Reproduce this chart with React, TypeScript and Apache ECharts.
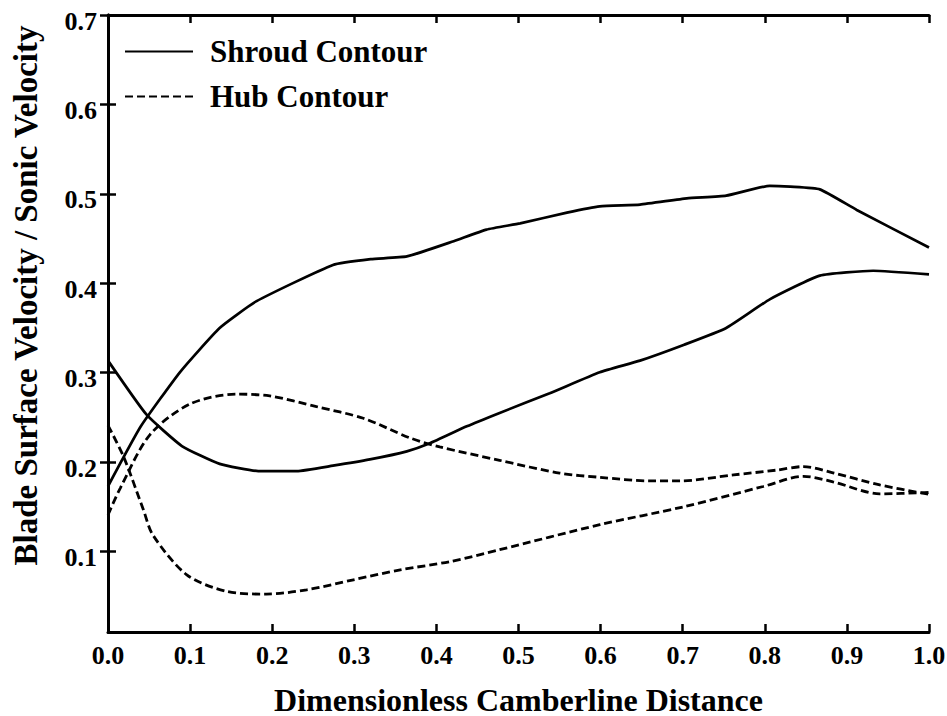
import React, { useEffect, useRef } from "react";
import * as echarts from "echarts";

const shroudSuction: [number, number][] = [
  [0.0, 0.173], [0.04, 0.24], [0.088, 0.301], [0.136, 0.35], [0.181, 0.38],
  [0.274, 0.4205], [0.32, 0.427], [0.364, 0.43], [0.421, 0.447], [0.461, 0.46],
  [0.502, 0.467], [0.559, 0.479], [0.599, 0.486], [0.648, 0.488], [0.705, 0.495],
  [0.753, 0.498], [0.806, 0.509], [0.831, 0.508], [0.867, 0.505], [0.912, 0.482],
  [1.0, 0.44],
];
const shroudPressure: [number, number][] = [
  [0.0, 0.3135], [0.047, 0.253], [0.09, 0.218], [0.136, 0.198], [0.183, 0.19],
  [0.23, 0.19], [0.274, 0.196], [0.319, 0.203], [0.364, 0.212], [0.392, 0.221],
  [0.437, 0.24], [0.477, 0.255], [0.538, 0.277], [0.599, 0.3005], [0.648, 0.3135],
  [0.701, 0.331], [0.753, 0.35], [0.806, 0.382], [0.867, 0.4085], [0.932, 0.414],
  [1.0, 0.41],
];
const hubUpper: [number, number][] = [
  [0.0, 0.141], [0.015, 0.171], [0.051, 0.2305], [0.1, 0.265], [0.157, 0.276],
  [0.197, 0.274], [0.254, 0.262], [0.311, 0.249], [0.368, 0.227], [0.404, 0.217],
  [0.477, 0.202], [0.55, 0.1877], [0.599, 0.183], [0.66, 0.179], [0.697, 0.179],
  [0.762, 0.1857], [0.814, 0.191], [0.847, 0.195], [0.883, 0.188], [0.94, 0.1745],
  [1.0, 0.164],
];
const hubLower: [number, number][] = [
  [0.0, 0.241], [0.019, 0.206], [0.043, 0.147], [0.055, 0.118], [0.096, 0.074],
  [0.145, 0.0553], [0.193, 0.0524], [0.242, 0.0572], [0.299, 0.0684], [0.356, 0.0795],
  [0.417, 0.0888], [0.477, 0.102], [0.599, 0.13], [0.701, 0.15], [0.798, 0.1727],
  [0.847, 0.184], [0.883, 0.178], [0.94, 0.1645], [1.0, 0.166],
];
const yTicks = [0.1, 0.2, 0.3, 0.4, 0.5, 0.6, 0.7];

const FONT = "'Liberation Serif', 'Times New Roman', serif";

export default function App() {
  const ref = useRef<HTMLDivElement>(null);
  useEffect(() => {
    if (!ref.current) return;
    const chart = echarts.init(ref.current, undefined, { renderer: "svg" });
    const axisLine = { show: true, lineStyle: { color: "#000", width: 3 } };
    const tick = { show: true, inside: true, length: 8, lineStyle: { color: "#000", width: 2.5 } };
    const solid = { color: "#000", width: 2.7, type: "solid" as const };
    const dashed = { color: "#000", width: 2.8, type: [8, 4] as any };
    chart.setOption({
      animation: false,
      backgroundColor: "#fff",
      grid: { left: 108, right: 18, top: 15, bottom: 84, containLabel: false, outerBoundsMode: "none" },
      legend: {
        orient: "vertical",
        left: 119,
        top: 31,
        itemWidth: 68,
        itemHeight: 2,
        itemGap: 14,
        itemStyle: { opacity: 0 },
        data: ["Shroud Contour", "Hub Contour"],
        textStyle: {
          fontFamily: FONT,
          fontWeight: "bold",
          fontSize: 31,
          color: "#000",
          padding: [0, 0, 0, 12],
        },
      },
      xAxis: [
        {
          type: "value",
          min: 0,
          max: 1,
          interval: 0.1,
          position: "bottom",
          name: "Dimensionless Camberline Distance",
          nameLocation: "middle",
          nameGap: 54,
          nameTextStyle: { fontFamily: FONT, fontWeight: "bold", fontSize: 32, lineHeight: 27, color: "#000" },
          axisLine,
          axisTick: tick,
          splitLine: { show: false },
          axisLabel: {
            margin: 10,
            fontFamily: FONT,
            fontWeight: "bold",
            fontSize: 26,
            color: "#000",
            formatter: (v: number) => v.toFixed(1),
          },
        },
        {
          type: "value",
          min: 0,
          max: 1,
          interval: 0.1,
          position: "top",
          axisLine,
          axisTick: tick,
          splitLine: { show: false },
          axisLabel: { show: false },
        },
      ],
      yAxis: [
        {
          type: "value",
          min: 0.01,
          max: 0.7,
          position: "left",
          name: "Blade Surface Velocity / Sonic Velocity",
          nameLocation: "middle",
          nameRotate: 90,
          nameGap: 66,
          nameTextStyle: {
            fontFamily: FONT,
            fontWeight: "bold",
            fontSize: 33,
            color: "#000",
            padding: [0, 0, 0, 56],
          },
          axisLine,
          axisTick: { ...tick, customValues: yTicks },
          splitLine: { show: false },
          axisLabel: {
            customValues: yTicks,
            margin: 11,
            fontFamily: FONT,
            fontWeight: "bold",
            fontSize: 26,
            color: "#000",
            verticalAlign: "top",
            lineHeight: 12,
            formatter: (v: number) => v.toFixed(1),
          },
        },
        {
          type: "value",
          min: 0.01,
          max: 0.7,
          position: "right",
          axisLine,
          axisTick: { ...tick, customValues: yTicks },
          splitLine: { show: false },
          axisLabel: { show: false },
        },
      ],
      series: [
        { name: "Shroud Contour", type: "line", data: shroudSuction, symbol: "none", lineStyle: solid, itemStyle: { color: "#000" }, smooth: 0.15 },
        { name: "Shroud Contour", type: "line", data: shroudPressure, symbol: "none", lineStyle: solid, itemStyle: { color: "#000" }, smooth: 0.15 },
        { name: "Hub Contour", type: "line", data: hubUpper, symbol: "none", lineStyle: dashed, itemStyle: { color: "#000" }, smooth: 0.3 },
        { name: "Hub Contour", type: "line", data: hubLower, symbol: "none", lineStyle: dashed, itemStyle: { color: "#000" }, smooth: 0.3 },
      ],
    });
    return () => chart.dispose();
  }, []);
  return <div ref={ref} style={{ width: 947, height: 716, position: "absolute", left: 0, top: 0 }} />;
}
